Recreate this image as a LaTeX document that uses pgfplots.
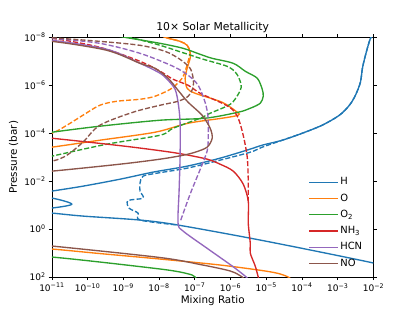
\documentclass[border=0pt]{standalone}
\usepackage{fontspec}
\setmainfont{DejaVu Sans}
\usepackage{pgfplots}
\pgfplotsset{compat=1.18}
\definecolor{cH}{HTML}{1F77B4}
\definecolor{cO}{HTML}{FF7F0E}
\definecolor{cOt}{HTML}{2CA02C}
\definecolor{cN}{HTML}{D62728}
\definecolor{cHCN}{HTML}{9467BD}
\definecolor{cNO}{HTML}{8C564B}
\begin{document}
\begin{tikzpicture}
\useasboundingbox (0,0) rectangle (460.8pt,345.6pt);
\begin{axis}[
  at={(57.6pt,38.02pt)}, anchor=south west,
  scale only axis, width=357.12pt, height=266.11pt,
  xmode=log, ymode=log, y dir=reverse,
  xmin=1e-11, xmax=1e-2, ymin=1e-8, ymax=1e2,
  xtick={1e-11,1e-10,1e-9,1e-8,1e-7,1e-6,1e-5,1e-4,1e-3,1e-2},
  xticklabels={10\textsuperscript{−11},10\textsuperscript{−10},10\textsuperscript{−9},10\textsuperscript{−8},10\textsuperscript{−7},10\textsuperscript{−6},10\textsuperscript{−5},10\textsuperscript{−4},10\textsuperscript{−3},10\textsuperscript{−2}},
  ytick={1e-8,1e-6,1e-4,1e-2,1,1e2},
  yticklabels={10\textsuperscript{−8},10\textsuperscript{−6},10\textsuperscript{−4},10\textsuperscript{−2},10\textsuperscript{0},10\textsuperscript{2}},
  xminorticks=false, yminorticks=false,
  tick align=outside, major tick length=3.5pt,
  tick style={black, line width=0.8pt},
  axis line style={line width=0.8pt},
  ticklabel style={font=\fontsize{10}{12}\selectfont},
  label style={font=\fontsize{11.5}{13}\selectfont},
  xlabel style={yshift=2pt},
  title={10× Solar Metallicity},
  title style={font=\fontsize{12}{14}\selectfont, yshift=-4pt},
  xlabel={Mixing Ratio}, ylabel={Pressure (bar)},
  every axis plot/.append style={line width=1.5pt, smooth, tension=0.5},
  legend style={at={(0.797,0.03)}, anchor=south west, draw=none, fill=none,
    font=\fontsize{11}{13}\selectfont, row sep=4.2pt, inner sep=0pt,
    nodes={inner sep=2pt, text height=7.8pt, text depth=2pt}},
  legend cell align=left,
  legend image code/.code={\draw[#1, line width=1.5pt, solid] (0pt,0pt) -- (25pt,0pt); \path (0pt,0pt) -- (32pt,0pt);},
]
\tikzset{dsh/.style={dash pattern=on 5.55pt off 2.4pt}}
% H
\addplot[cH] coordinates {(1.05e-2,8e-9) (8.2e-3,1.1e-8) (5.96e-3,5.6e-8) (4.9e-3,1.95e-7) (4.3e-3,7.5e-7) (3.13e-3,2.6e-6) (2.12e-3,6.8e-6) (1.11e-3,1.78e-5) (3.7e-4,4.6e-5) (1.02e-4,1e-4) (2.8e-5,1.96e-4) (7.7e-6,3.16e-4) (3.56e-6,4.6e-4) (5.1e-7,1.1e-3) (6.1e-8,2.37e-3) (6.8e-9,4.2e-3) (8.05e-10,8.3e-3) (7.4e-11,1.62e-2) (1e-11,2.6e-2) (1.5e-12,4e-2) (1e-11,5.1e-2) (3.6e-11,9.1e-2) (1e-11,0.133) (1.5e-12,0.17) (1e-11,0.215) (7.4e-11,0.287) (2.93e-9,0.42) (3.4e-8,0.68) (9.35e-6,3.16) (1e-2,26.1) (2e-2,40)};
\addlegendentry{H}
\addplot[cH,dsh,forget plot] coordinates {(1.05e-2,8e-9) (8.2e-3,1.1e-8) (5.96e-3,5.6e-8) (4.9e-3,1.95e-7) (4.3e-3,7.5e-7) (3.13e-3,2.6e-6) (2.12e-3,6.8e-6) (1.11e-3,1.78e-5) (3.7e-4,4.6e-5) (1.02e-4,1e-4) (2.8e-5,1.96e-4) (7.7e-6,3.83e-4) (3.56e-6,6.2e-4) (5.1e-7,1.33e-3) (6.1e-8,2.87e-3) (8.8e-9,4.64e-3) (3.56e-9,6.2e-3) (2.93e-9,1.21e-2) (2.93e-9,2.6e-2) (3.56e-9,5.1e-2) (1.35e-9,6.5e-2) (1.44e-9,0.133) (2.58e-9,0.215) (2.93e-9,0.42) (3.4e-8,0.68)};
% O
\addplot[cO] coordinates {(1.07e-8,7.5e-9) (1.47e-8,1e-8) (3.87e-8,1.47e-8) (6.1e-8,2.15e-8) (7.4e-8,4.2e-8) (7.4e-8,7.5e-8) (6.1e-8,1.96e-7) (5.36e-8,5.1e-7) (6.1e-8,1.33e-6) (1.02e-7,2.15e-6) (5.8e-7,5.1e-6) (1.53e-6,1.33e-5) (1.64e-6,1.78e-5) (5.8e-7,2.37e-5) (6.5e-8,3.83e-5) (7.7e-9,9.1e-5) (2.2e-10,1.96e-4) (1e-11,3.83e-4) (1e-12,6e-4)};
\addlegendentry{O}
\addplot[cO,forget plot] coordinates {(1e-12,5.5) (1e-11,6.8) (2.2e-10,10.5) (1.07e-8,17.8) (5.1e-7,31.6) (9.35e-6,56.2) (2.47e-5,75) (4.1e-5,100) (5.2e-5,130)};
\addplot[cO,dsh,forget plot] coordinates {(1.07e-8,7.5e-9) (1.47e-8,1e-8) (3.87e-8,1.47e-8) (6.1e-8,2.15e-8) (7.4e-8,4.2e-8) (6.5e-8,1e-7) (5.36e-8,2.6e-7) (4.4e-8,5.1e-7) (2.3e-8,1.33e-6) (7.7e-9,2.87e-6) (2.93e-9,3.83e-6) (6.6e-10,4.64e-6) (2.2e-10,6.8e-6) (7.4e-11,1.78e-5) (2.63e-11,4.64e-5) (1e-11,1e-4) (1e-12,3e-4)};
% O2
\addplot[cOt] coordinates {(5.8e-10,8.3e-9) (1.11e-9,1e-8) (1.07e-8,1.78e-8) (4.7e-8,2.87e-8) (1.41e-7,5.1e-8) (3.06e-7,7.5e-8) (1.19e-6,1.21e-7) (2.58e-6,2.6e-7) (5.6e-6,5.1e-7) (7.7e-6,1.47e-6) (8.2e-6,2.87e-6) (6.8e-6,5.6e-6) (3.56e-6,9.1e-6) (1.64e-6,1.33e-5) (1.94e-7,2.37e-5) (1.07e-8,2.87e-5) (2.2e-10,5.1e-5) (1e-11,9.1e-5) (1e-12,1.5e-4)};
\addlegendentry{O\textsubscript{2}}
\addplot[cOt,forget plot] coordinates {(1e-12,12) (1e-11,14.7) (2.2e-10,23.7) (1.07e-8,46.4) (3.87e-8,61.9) (8.4e-8,82.5) (1.02e-7,100) (1.15e-7,130)};
\addplot[cOt,dsh,forget plot] coordinates {(8.05e-10,8.3e-9) (1.54e-9,1e-8) (1.07e-8,2.15e-8) (1.41e-7,7.5e-8) (8.05e-7,1.62e-7) (1.44e-6,3.16e-7) (1.86e-6,6.8e-7) (1.99e-6,1.21e-6) (1.64e-6,2.37e-6) (9.8e-7,6.2e-6) (2.69e-7,1.47e-5) (1.41e-7,2.37e-5) (2.47e-8,6.2e-5) (1.07e-8,1.21e-4) (3.48e-10,2.87e-4) (1e-11,9.1e-4) (1e-12,2e-3)};
% NH3
\addplot[cN] coordinates {(1e-12,1.2e-4) (1e-11,1.62e-4) (8.05e-10,3.3e-4) (1.07e-8,5.36e-4) (4.7e-8,7.5e-4) (2.21e-7,1.21e-3) (5.1e-7,1.96e-3) (1.19e-6,3.83e-3) (2.26e-6,1.33e-2) (3.13e-6,6.8e-2) (3.13e-6,0.56) (3.56e-6,3.83) (3.56e-6,10) (4.9e-6,34.8) (5.96e-6,100) (6.3e-6,130)};
\addlegendentry{NH\textsubscript{3}}
\addplot[cN,dsh,forget plot] coordinates {(1e-12,9e-9) (1e-11,1.1e-8) (2.2e-10,2.6e-8) (2.93e-9,1e-7) (1.07e-8,2.6e-7) (2.47e-8,5.6e-7) (6.5e-8,1e-6) (1.41e-7,2.15e-6) (5.8e-7,5.6e-6) (1.11e-6,1e-5) (1.64e-6,2.37e-5) (2.26e-6,1.21e-4) (2.93e-6,1e-3) (3.13e-6,1e-2) (3.13e-6,6.8e-2)};
% HCN
\addplot[cHCN] coordinates {(1e-12,1.1e-8) (1e-11,1.33e-8) (3.48e-10,3.16e-8) (2.93e-9,1.21e-7) (1.07e-8,3.16e-7) (1.79e-8,6.2e-7) (2.8e-8,1.47e-6) (3.4e-8,5.1e-6) (3.87e-8,3.48e-5) (3.87e-8,1e-3) (3.63e-8,2.6e-2) (3.4e-8,0.56) (4.7e-8,1.21) (2.36e-7,6.8) (1.11e-6,34.8) (2.75e-6,100) (3.1e-6,130)};
\addlegendentry{HCN}
\addplot[cHCN,dsh,forget plot] coordinates {(1e-12,9e-9) (1e-11,1.1e-8) (2.2e-10,1.78e-8) (2.93e-9,4.64e-8) (2.47e-8,1.62e-7) (6.5e-8,3.83e-7) (1.24e-7,1e-6) (1.94e-7,5.1e-6) (2.36e-7,2.37e-5) (2.36e-7,2.15e-4) (2.21e-7,5.6e-4) (1.5e-7,2.6e-3) (7.4e-8,3.48e-2) (3.87e-8,0.51)};
% NO
\addplot[cNO] coordinates {(1e-12,1.3e-8) (1e-11,1.47e-8) (3.48e-10,3.48e-8) (2.93e-9,1.21e-7) (7.7e-9,1.96e-7) (1.79e-8,5.1e-7) (3.4e-8,1.62e-6) (6.5e-8,5.1e-6) (1.6e-7,1.78e-5) (2.69e-7,6.2e-5) (3.06e-7,1.62e-4) (2.21e-7,3.83e-4) (1.02e-7,6.2e-4) (4.7e-8,8.3e-4) (1.07e-8,1.21e-3) (8.05e-10,1.96e-3) (1e-11,3.83e-3) (1e-12,5e-3)};
\addlegendentry{NO}
\addplot[cNO,forget plot] coordinates {(1e-12,4) (1e-11,5.1) (1.07e-8,15.4) (1.41e-7,30.1) (9.8e-7,56.2) (2.12e-6,100) (2.4e-6,130)};
\addplot[cNO,dsh,forget plot] coordinates {(1e-12,9.5e-9) (1e-11,1.05e-8) (2.2e-10,1.47e-8) (2.93e-9,2.15e-8) (1.47e-8,3.83e-8) (3.87e-8,8.3e-8) (7.4e-8,1.96e-7) (8.97e-8,5.1e-7) (8.97e-8,1.21e-6) (6.5e-8,2.87e-6) (3.4e-8,4.64e-6) (1.07e-8,6.8e-6) (1.87e-9,1.33e-5) (2.2e-10,4.64e-5) (7.4e-11,2.37e-4) (2.63e-11,8.3e-4) (1e-11,1.47e-3) (1e-12,2.5e-3)};
\end{axis}
\end{tikzpicture}
\end{document}
